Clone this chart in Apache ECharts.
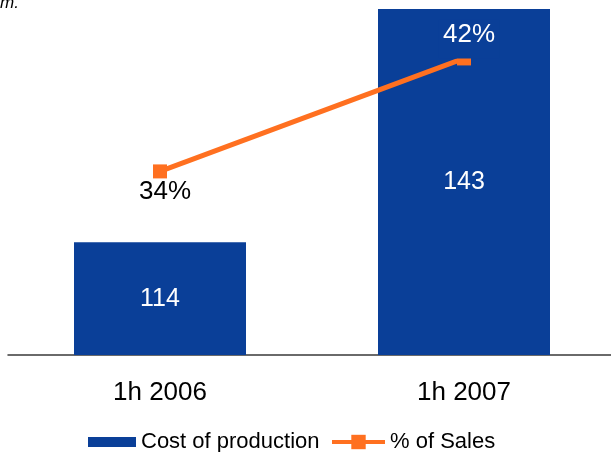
<!DOCTYPE html>
<html>
<head>
<meta charset="utf-8">
<script src="https://cdn.jsdelivr.net/npm/echarts@6/dist/echarts.min.js"></script>
<style>
html,body{margin:0;padding:0;background:#fff;}
#chart{width:611px;height:452px;}
</style>
</head>
<body>
<div id="chart"></div>
<script>
var categories = ['1h 2006', '1h 2007'];
var costOfProduction = [114, 143];
var pctOfSales = [34, 42];
var seriesNames = ['Cost of production', '% of Sales'];

var BLUE = '#0A3F98';
var ORANGE = '#FF7020';
var FONT = '"Liberation Sans", Arial, sans-serif';

var chart = echarts.init(document.getElementById('chart'), null, {renderer: 'canvas'});

var lineLabels = [
  {position: 'bottom', distance: 0, color: '#000', offset: [5, 0]},
  {position: 'top', distance: -7, color: '#fff', offset: [5, 0],
   backgroundColor: BLUE, padding: [2, 4, 11, 4]}
];

var lineData = pctOfSales.map(function (v, i) {
  return {value: v, label: lineLabels[i]};
});

chart.setOption({
  animation: false,
  backgroundColor: '#fff',
  textStyle: {fontFamily: FONT},
  graphic: [{
    type: 'text', left: 0, top: -5,
    style: {text: 'm.', font: 'italic 17px ' + FONT, fill: '#000'}
  }],
  legend: [{
    data: [seriesNames[0]],
    left: 88, top: 431, padding: 0,
    itemWidth: 48, itemHeight: 10,
    icon: 'rect',
    textStyle: {fontSize: 22, color: '#000', fontFamily: FONT}
  }, {
    data: [{name: seriesNames[1], lineStyle: {width: 4}}],
    left: 330, top: 431, padding: 0,
    itemWidth: 53, itemHeight: 18,
    textStyle: {fontSize: 22, color: '#000', fontFamily: FONT}
  }],
  grid: {left: 8, width: 608, top: 9, bottom: 97, containLabel: false, outerBoundsMode: 'none'},
  xAxis: {
    type: 'category',
    data: categories,
    axisTick: {show: false},
    axisLine: {lineStyle: {color: '#3a3a3a', width: 1.5}},
    axisLabel: {fontSize: 26, color: '#000', margin: 25, fontFamily: FONT}
  },
  yAxis: [{
    type: 'value', min: 100, max: 143, show: false, splitLine: {show: false}
  }, {
    type: 'value', min: 21, max: 45.5, show: false, splitLine: {show: false}
  }],
  series: [{
    name: seriesNames[0],
    type: 'bar',
    data: costOfProduction,
    barWidth: 172,
    itemStyle: {color: BLUE},
    label: {show: true, position: 'inside', color: '#fff', fontSize: 25, fontFamily: FONT}
  }, {
    name: seriesNames[1],
    type: 'line',
    yAxisIndex: 1,
    data: lineData,
    symbol: 'rect',
    symbolSize: 14,
    lineStyle: {color: ORANGE, width: 5},
    itemStyle: {color: ORANGE},
    label: {show: true, fontSize: 26, fontFamily: FONT,
      formatter: function (p) { return p.value + '%'; }},
    z: 5
  }]
});
</script>
</body>
</html>
